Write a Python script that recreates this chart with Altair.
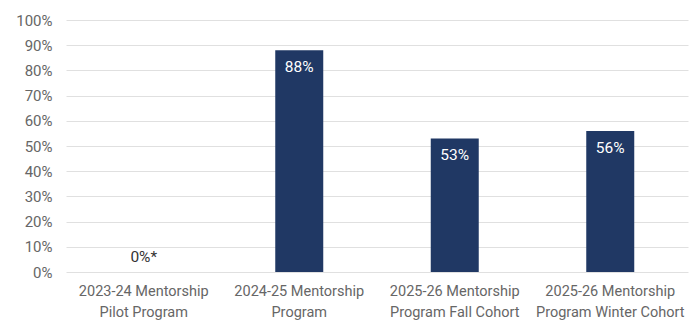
import altair as alt
import pandas as pd

categories = [
    "2023-24 Mentorship|Pilot Program",
    "2024-25 Mentorship|Program",
    "2025-26 Mentorship|Program Fall Cohort",
    "2025-26 Mentorship|Program Winter Cohort",
]
values = [0, 88, 53, 56]
labels = ["0%*", "88%", "53%", "56%"]

df = pd.DataFrame({"category": categories, "value": values, "label": labels})

FONT = "Roboto"
x = alt.X(
    "category:N",
    sort=categories,
    title=None,
    scale=alt.Scale(paddingInner=0.69, paddingOuter=0.345),
    axis=alt.Axis(
        labelExpr="split(datum.label, '|')",
        labelAngle=0,
        labelFontSize=14.5,
        labelColor="#666666",
        labelFont=FONT,
        labelPadding=12,
        labelLineHeight=21,
        ticks=False,
        domain=False,
    ),
)
y = alt.Y(
    "value:Q",
    title=None,
    scale=alt.Scale(domain=[0, 100]),
    axis=alt.Axis(
        values=list(range(0, 101, 10)),
        labelExpr="datum.value + '%'",
        labelFontSize=15,
        labelColor="#666666",
        labelFont=FONT,
        labelPadding=14,
        ticks=False,
        domain=False,
        gridColor="#e0e0e0",
        gridWidth=1,
    ),
)

base = alt.Chart(df)
bars = base.mark_bar(color="#203864", size=48).encode(x=x, y=y)
inside = base.transform_filter("datum.value > 0").mark_text(
    baseline="top", dy=10, color="white", fontSize=15.5, font=FONT
).encode(x=x, y=y, text="label:N")
outside = base.transform_filter("datum.value == 0").mark_text(
    baseline="bottom", dy=-7, color="#333333", fontSize=15.5, font=FONT
).encode(x=x, y=y, text="label:N")

chart = (
    alt.layer(bars, inside, outside)
    .properties(
        width=622,
        height=252,
        autosize=alt.AutoSizeParams(type="none"),
        padding={"left": 58, "top": 12, "right": 3, "bottom": 54},
        background="white",
    )
    .configure_view(stroke=None)
)

chart.save("out.html", embed_options={"renderer": "svg", "actions": False})
